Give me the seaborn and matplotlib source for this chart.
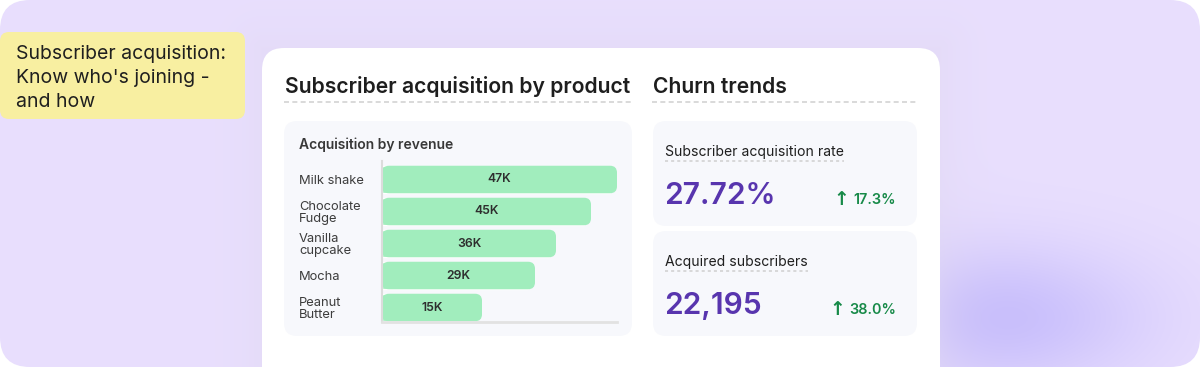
import numpy as np
import matplotlib
matplotlib.use("Agg")
import matplotlib.pyplot as plt
from matplotlib.patches import FancyBboxPatch
import seaborn as sns

# chart data
products = ["Milk shake", "Chocolate Fudge", "Vanilla cupcake", "Mocha", "Peanut Butter"]
product_labels = ["Milk shake", "Chocolate\nFudge", "Vanilla\ncupcake", "Mocha", "Peanut\nButter"]
revenue_labels = ["47K", "45K", "36K", "29K", "15K"]
# bar lengths as drawn in the picture (K, same scale as the 47K bar)
bar_lengths = [47, 41.8, 34.8, 30.6, 20.0]

kpi_titles = ["Subscriber acquisition rate", "Acquired subscribers"]
kpi_values = ["27.72%", "22,195"]
kpi_deltas = ["17.3%", "38.0%"]

note_lines = ["Subscriber acquisition:", "Know who's joining -", "and how"]

sns.set_theme(style="white")
plt.rcParams["font.family"] = ["Inter", "DejaVu Sans"]

W, H = 1200, 367
fig = plt.figure(figsize=(12, 3.67), dpi=100)
fig.patch.set_facecolor("white")

# background canvas in pixel coords
bg = fig.add_axes([0, 0, 1, 1])
bg.set_xlim(0, W)
bg.set_ylim(H, 0)
bg.axis("off")

yy, xx = np.mgrid[0:H, 0:W] + 0.5
base = np.array([233, 223, 254]) / 255
blob_c = np.array([200, 190, 252]) / 255
shade_c = np.array([224, 216, 242]) / 255
img = np.ones((H, W, 3)) * base
blob = np.exp(-(((xx - 995) / 150) ** 2 + ((yy - 318) / 72) ** 2))
img = img * (1 - blob[..., None]) + blob_c * blob[..., None]
dx = np.maximum(np.maximum(262 - xx, 0), xx - 940)
dy = np.maximum(48 - yy, 0)
d = np.sqrt(dx ** 2 + dy ** 2)
sh = 0.45 * np.exp(-d / 28)
img = img * (1 - sh[..., None]) + shade_c * sh[..., None]
im = bg.imshow(img, extent=[0, W, H, 0], interpolation="bilinear", zorder=0)
clip = FancyBboxPatch((0, 0), W, H, boxstyle="round,pad=0,rounding_size=30",
                      facecolor="none", edgecolor="none", transform=bg.transData)
bg.add_patch(clip)
im.set_clip_path(clip)

# yellow sticky note
bg.add_patch(FancyBboxPatch((0, 32), 245, 87, boxstyle="round,pad=0,rounding_size=9",
                            facecolor="#F8EFA1", edgecolor="none", zorder=2))
for i, line in enumerate(note_lines):
    bg.text(16, 59 + 24 * i, line, fontsize=14, color="#1F1F1F", va="baseline", zorder=3)

# white card
bg.add_patch(FancyBboxPatch((262, 48), 678, 360, boxstyle="round,pad=0,rounding_size=22",
                            facecolor="white", edgecolor="none", zorder=2))

# section headings
bg.text(285, 93, "Subscriber acquisition by product", fontsize=15.2, weight="semibold",
        color="#1E1E1E", va="baseline", zorder=3)
bg.text(653, 93, "Churn trends", fontsize=15.2, weight="semibold",
        color="#1E1E1E", va="baseline", zorder=3)
bg.plot([284, 631], [101.5, 101.5], ls=(0, (3, 2)), color="#D3D3D3", lw=1.2, zorder=3)
bg.plot([652, 917], [101.5, 101.5], ls=(0, (3, 2)), color="#D3D3D3", lw=1.2, zorder=3)

# panels
bg.add_patch(FancyBboxPatch((284, 121), 348, 215, boxstyle="round,pad=0,rounding_size=13",
                            facecolor="#F7F8FC", edgecolor="none", zorder=3))
bg.text(299, 149, "Acquisition by revenue", fontsize=10, weight="semibold",
        color="#383838", va="baseline", zorder=4)

card_tops = [121, 231]
for i in range(2):
    top = card_tops[i]
    bg.add_patch(FancyBboxPatch((653, top), 264, 105, boxstyle="round,pad=0,rounding_size=13",
                                facecolor="#F7F8FC", edgecolor="none", zorder=3))
    t = bg.text(665, top + 35, kpi_titles[i], fontsize=10.1, color="#1F1F1F",
                va="baseline", zorder=4)
    fig.canvas.draw()
    bb = t.get_window_extent().transformed(bg.transData.inverted())
    bg.plot([665, bb.x1], [top + 40, top + 40], ls=(0, (2, 2)), color="#CFCFCF", lw=1.1, zorder=4)
    bg.text(664, top + 83, kpi_values[i], fontsize=21.6, weight="semibold", color="#5835AE",
            va="baseline", zorder=4)
    dt = bg.text(896, top + 83, kpi_deltas[i], fontsize=10.4, weight="semibold",
                 color="#178A48", ha="right", va="baseline", zorder=4)
    fig.canvas.draw()
    db = dt.get_window_extent().transformed(bg.transData.inverted())
    bg.text(db.x0 - 4, top + 84, "\u2191", fontsize=13.5, weight="bold", color="#178A48",
            family="DejaVu Sans", ha="right", va="baseline", zorder=4)

# bar chart
ax = fig.add_axes([382 / W, 1 - 322 / H, 235 / W, 161 / H])
ax.set_facecolor("none")
sns.barplot(x=bar_lengths, y=products, orient="h", color="#A1EDBD", width=0.86,
            saturation=1, ax=ax)
ax.set_xlim(0, 47)
ax.set_ylim(4.453, -0.578)

rx = 1.4
ry = 7 / 32
for p in list(ax.patches):
    x0, y0, w, h = p.get_x(), p.get_y(), p.get_width(), p.get_height()
    ax.add_patch(FancyBboxPatch((x0, y0), w, h, boxstyle=f"round,pad=0,rounding_size={rx}",
                                mutation_aspect=ry / rx, facecolor="#A1EDBD",
                                edgecolor="none", zorder=p.get_zorder(), clip_on=False))
    p.set_width(w - rx)

for i, lab in enumerate(revenue_labels):
    ax.text(bar_lengths[i] / 2, i, lab, ha="center", va="center", fontsize=8.8,
            weight="semibold", color="#2E2E2E", zorder=5)

ax.set_xticks([])
ax.set_yticks(range(len(products)))
ax.set_yticklabels(product_labels, ha="left", fontsize=9.3, color="#3D3D3D", linespacing=0.95)
ax.tick_params(axis="y", length=0, pad=83 * 0.72)
ax.set_xlabel("")
ax.set_ylabel("")
for s in ["top", "right"]:
    ax.spines[s].set_visible(False)
ax.spines["left"].set_color("#DCDCDC")
ax.spines["left"].set_linewidth(1.5)
ax.spines["bottom"].set_color("#E2E2E2")
ax.spines["bottom"].set_linewidth(2)

fig.savefig("out.png", dpi=100, facecolor="white")
